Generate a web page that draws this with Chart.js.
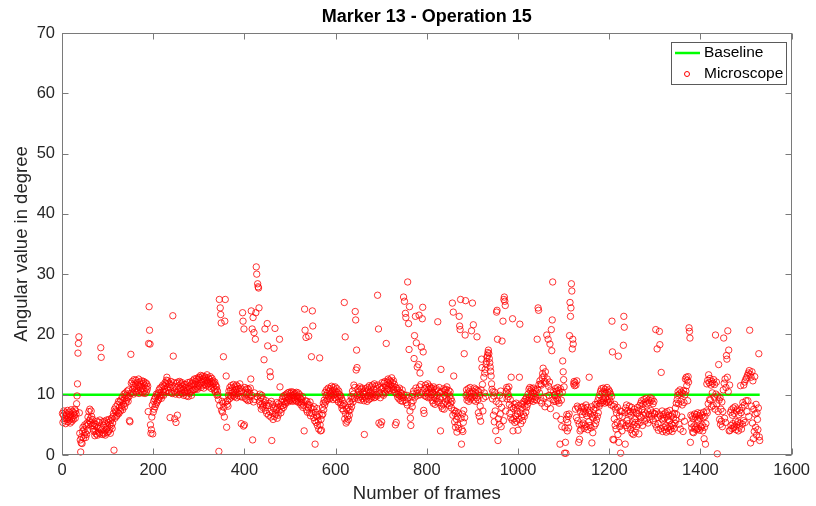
<!DOCTYPE html>
<html>
<head>
<meta charset="utf-8">
<style>
  html, body { margin: 0; padding: 0; background: #fff; }
  #wrap { width: 816px; height: 506px; }
</style>
<script src="https://cdn.jsdelivr.net/npm/chart.js@4.4.1/dist/chart.umd.min.js"></script>
</head>
<body>
<div id="wrap"><canvas id="chart" width="816" height="506"></canvas></div>
<script>
const chartTitle = "Marker 13 - Operation 15";
const xLabel = "Number of frames";
const yLabel = "Angular value in degree";
const xTicks = [0, 200, 400, 600, 800, 1000, 1200, 1400, 1600];
const yTicks = [0, 10, 20, 30, 40, 50, 60, 70];
const baselineValue = 10;

// angular value per frame (frame 1 .. N)
const angles = [
  6.9,5.4,6.6,7.3,5.7,6.1,7.0,5.2,6.5,6.8,5.9,7.4,5.5,6.2,7.1,5.8,6.7,5.3,6.4,7.5,6.0,5.6,7.2,6.3,5.9,7.0,6.6,7.6,6.1,7.3,
  6.8,8.5,9.8,11.8,16.9,18.5,19.6,7.0,3.6,2.5,0.5,2.0,3.0,1.9,3.9,4.6,2.8,4.2,3.3,5.0,3.7,2.9,4.8,3.4,5.3,4.1,6.3,5.1,7.2,5.7,
  7.6,6.0,5.3,7.3,6.4,4.9,5.9,4.3,5.2,3.9,4.8,3.2,5.1,4.0,3.5,4.7,5.6,3.3,4.5,3.8,5.4,3.6,5.8,4.4,17.8,16.2,4.2,3.4,5.5,3.7,
  4.9,3.5,5.6,4.0,3.3,5.2,4.3,5.8,3.7,4.6,5.4,3.9,5.9,4.2,5.0,3.6,5.7,4.8,6.1,4.4,5.3,6.4,6.9,0.8,7.6,6.1,7.3,8.0,6.4,7.2,
  6.6,8.4,7.0,8.9,6.9,7.9,8.8,7.3,9.1,7.8,8.2,9.6,7.5,9.0,8.4,10.1,8.0,9.4,10.3,8.6,9.9,9.1,10.6,9.5,8.9,10.8,9.7,5.7,5.5,10.2,
  16.7,11.9,10.3,12.2,10.9,11.6,10.1,12.5,11.3,10.6,11.8,12.4,10.4,11.1,12.0,10.7,11.5,12.6,10.2,11.4,12.1,10.8,11.7,10.5,12.3,11.0,10.3,11.9,12.2,10.6,
  11.6,10.2,12.0,11.1,10.5,11.8,10.9,11.4,7.2,18.5,24.6,20.7,18.4,5.0,3.6,4.2,6.3,8.3,3.5,7.1,8.9,7.6,9.3,8.0,9.6,8.4,10.1,8.7,9.9,9.0,
  10.3,9.2,10.8,9.6,11.1,9.9,10.4,9.4,11.3,10.0,11.6,10.6,9.9,11.4,10.9,12.0,10.5,11.8,12.4,12.9,11.2,12.3,10.7,11.9,10.4,11.7,6.2,11.1,12.2,10.3,
  11.6,10.2,23.1,16.4,12.0,10.6,6.0,11.3,10.1,5.4,11.9,10.4,6.6,12.1,10.8,11.5,10.0,12.2,11.0,10.3,11.8,10.7,12.0,10.2,11.4,10.9,9.9,11.7,10.5,11.2,
  10.4,11.7,9.8,11.1,10.6,12.0,9.7,11.4,10.9,10.2,12.1,10.5,11.6,9.9,11.9,10.7,12.3,10.8,11.5,12.6,10.9,11.8,12.2,11.0,12.7,11.3,10.9,12.5,11.6,12.9,
  11.4,12.8,11.9,13.2,11.2,12.5,12.0,13.1,11.6,12.7,11.1,13.0,12.3,11.7,12.9,11.5,12.4,13.3,11.8,12.1,12.8,11.3,12.6,11.9,13.0,11.6,12.2,11.0,12.7,11.8,
  12.3,11.2,11.9,10.8,12.1,10.5,11.6,10.9,11.3,9.9,10.6,10.0,9.2,0.6,25.8,8.2,24.4,23.3,21.9,7.4,8.9,7.1,8.6,16.3,7.9,6.3,22.2,25.8,8.8,13.1,
  4.6,8.4,9.0,8.1,9.9,10.6,9.3,11.2,9.8,10.7,11.5,9.6,10.3,11.1,9.9,11.7,10.4,9.7,11.3,10.1,10.8,11.6,9.5,10.9,11.4,10.2,9.8,11.0,10.5,11.8,
  9.7,11.1,5.2,10.6,9.6,23.6,22.2,4.8,20.9,5.0,11.2,9.4,10.8,10.1,9.2,11.0,10.4,9.0,10.9,9.7,10.3,9.1,11.1,12.6,23.9,9.9,20.9,2.5,22.8,8.8,
  20.3,10.3,9.2,19.2,23.6,31.2,30.0,9.7,28.4,27.9,27.7,24.4,8.9,10.1,8.3,9.5,7.6,9.9,8.5,7.9,9.3,8.1,15.8,8.7,20.9,7.4,9.0,8.2,6.9,21.8,
  18.1,8.2,6.6,8.6,7.2,13.8,13.0,6.3,8.9,2.4,7.0,8.4,5.9,7.7,17.7,6.4,21.0,8.0,6.8,7.5,8.7,6.1,7.9,6.6,8.5,7.3,19.2,11.3,8.1,7.0,
  8.8,7.6,9.3,8.2,9.7,7.9,8.9,9.9,8.4,9.5,8.7,10.1,9.0,9.6,10.3,8.8,9.4,10.4,9.1,9.8,10.2,9.0,10.5,9.3,9.9,8.9,10.4,9.5,10.0,9.2,
  10.2,9.0,9.7,10.4,8.9,9.8,9.3,10.3,8.7,9.6,10.0,8.8,9.4,8.3,9.2,8.6,9.7,7.9,8.8,8.2,4.0,24.2,20.7,9.0,19.5,7.5,8.9,7.1,8.4,7.8,
  19.7,8.3,7.0,8.8,6.5,7.8,16.3,6.9,23.9,21.4,7.6,6.2,8.0,5.7,1.8,7.1,5.4,6.5,7.7,4.9,6.3,5.6,4.3,6.7,16.1,5.0,4.0,5.9,4.1,6.6,
  7.9,6.8,8.6,7.5,9.1,8.3,10.4,8.8,9.9,10.8,9.1,10.3,9.4,11.1,9.8,10.6,9.3,11.0,10.2,9.6,11.4,9.9,10.7,9.2,11.2,10.0,10.8,9.5,11.3,10.1,
  10.5,9.2,11.0,9.7,10.3,8.8,10.6,9.4,10.0,8.7,9.8,8.3,9.4,7.7,9.0,8.2,7.4,8.5,25.3,6.0,19.6,6.8,5.3,7.6,5.6,6.4,7.9,5.9,7.3,6.6,
  8.9,7.5,8.5,9.7,8.0,9.3,10.6,8.8,10.1,11.6,9.4,11.2,23.8,22.4,14.1,17.4,14.5,9.9,11.0,9.2,10.6,9.6,11.3,10.0,9.1,10.9,9.7,11.1,9.4,10.4,
  10.1,9.0,3.4,10.6,9.6,11.0,9.3,10.4,8.9,11.2,9.8,10.8,9.2,11.5,9.9,10.5,9.4,11.3,10.2,9.7,11.6,10.0,10.9,9.5,11.8,10.3,9.6,11.4,10.0,11.0,
  9.8,26.5,11.6,20.9,5.3,10.2,11.3,9.5,5.0,10.9,5.5,12.0,10.1,11.2,9.9,11.9,10.6,12.2,10.3,11.5,18.5,10.8,12.1,11.0,12.6,10.9,11.8,12.4,10.7,11.6,
  12.2,11.1,12.8,11.4,12.0,10.8,12.3,10.9,11.7,10.4,5.0,11.2,5.4,10.1,11.0,9.6,10.7,10.0,9.3,11.1,9.8,10.4,9.0,10.2,9.6,10.8,8.9,9.5,26.2,10.0,
  25.5,9.1,23.5,22.8,8.7,9.9,8.3,28.7,9.5,21.8,17.5,24.6,7.3,6.1,4.9,8.6,9.7,8.0,10.1,9.0,10.6,16.0,19.8,9.6,23.0,11.1,18.6,10.2,14.6,10.7,
  9.9,15.0,23.2,11.3,13.6,10.0,11.7,17.9,10.3,22.6,24.5,17.1,7.4,6.9,11.0,9.8,11.6,10.4,9.7,11.2,10.1,11.8,9.5,10.9,10.3,11.4,9.6,11.1,10.0,10.8,
  11.1,9.0,10.4,8.6,11.3,9.6,10.0,8.4,10.8,9.3,11.0,8.9,9.9,22.1,10.6,8.7,11.2,9.4,10.3,4.0,14.2,8.1,10.5,7.7,9.6,8.4,11.0,7.6,9.9,10.7,
  8.8,10.9,9.4,11.3,8.5,10.2,9.1,10.7,8.2,9.8,10.5,8.6,9.3,7.8,8.9,25.2,6.6,23.7,13.1,7.4,5.5,6.9,4.6,7.2,5.9,3.8,6.4,5.0,7.0,4.4,
  23.0,21.4,20.8,25.8,6.1,1.8,4.2,6.8,3.9,5.4,7.4,16.8,6.2,19.9,25.6,9.9,10.8,9.1,10.2,9.5,11.0,8.9,10.5,9.7,11.2,9.3,10.1,20.6,9.6,25.2,
  10.6,21.6,9.1,11.1,9.8,10.3,8.9,10.9,9.5,19.6,10.7,9.2,7.0,10.5,6.4,9.9,8.1,5.6,10.8,15.9,14.5,11.7,7.3,9.4,12.9,10.3,13.6,14.2,9.7,15.0,
  15.5,16.2,16.5,17.0,17.4,16.8,16.0,15.3,14.6,13.9,13.1,11.8,10.9,9.3,10.5,6.6,9.8,5.5,10.4,7.3,4.0,8.9,23.7,24.0,19.2,2.4,6.0,8.5,5.1,9.9,
  6.8,10.6,4.7,7.9,18.9,9.4,22.2,5.7,25.8,26.2,25.5,24.8,7.3,10.5,11.2,9.3,10.9,10.1,9.7,11.3,8.4,6.9,9.2,6.2,12.9,8.0,5.8,22.6,4.0,7.7,
  6.0,8.4,5.4,7.9,6.5,8.6,5.6,7.3,6.8,4.1,8.2,5.9,12.9,21.7,7.0,5.2,8.5,6.3,7.8,5.7,8.4,6.7,8.9,6.4,8.1,9.2,7.1,9.5,7.9,9.0,
  8.4,10.1,9.1,10.9,9.5,11.2,9.0,10.6,9.8,11.0,9.3,10.4,8.9,11.1,9.7,10.2,9.2,10.8,9.6,10.5,9.1,19.2,10.9,24.4,24.0,11.7,10.3,12.3,9.0,11.8,
  11.6,8.6,12.8,13.5,14.4,9.4,13.1,12.2,8.0,13.8,11.9,9.7,19.9,12.6,8.5,19.2,11.4,9.9,12.1,18.4,7.7,10.8,20.8,17.3,22.4,28.7,9.2,10.5,8.9,10.0,
  9.9,11.0,8.9,6.5,10.6,9.3,11.2,9.0,10.7,8.6,10.2,1.8,11.0,5.9,9.1,4.7,10.4,15.6,13.8,12.5,11.3,0.3,4.5,2.1,0.3,5.9,6.7,4.0,5.4,6.4,
  4.5,6.8,19.8,25.3,23.0,24.4,28.4,27.2,17.6,19.2,18.4,11.8,12.2,11.5,12.0,7.6,11.6,6.2,12.3,8.1,5.7,7.8,2.1,5.1,2.6,4.0,7.2,4.3,7.9,5.0,
  6.7,8.0,5.3,7.2,4.4,7.7,5.0,6.9,8.3,4.7,6.5,7.9,4.2,7.1,5.5,12.9,7.4,4.9,6.8,4.5,8.0,2.0,6.3,3.7,6.1,7.5,4.8,6.6,8.4,5.2,
  7.8,5.8,8.4,6.4,9.0,7.0,9.5,8.1,10.0,8.5,10.6,9.0,11.0,8.7,10.3,9.3,11.1,9.0,10.5,8.6,10.9,9.4,10.2,8.8,11.2,9.1,10.4,8.7,10.8,9.3,
  10.5,8.9,10.1,8.3,9.7,22.2,17.1,2.6,8.1,2.5,6.0,8.4,4.9,7.6,4.3,7.0,5.4,7.9,3.4,16.4,2.1,6.5,4.7,7.3,0.3,5.2,7.2,4.0,6.4,5.3,
  18.2,23.0,21.2,7.0,1.8,7.8,4.9,8.3,5.7,4.5,7.4,5.2,6.9,8.1,4.8,7.2,4.2,6.6,7.9,3.6,5.5,7.1,3.4,5.0,7.6,6.0,3.8,5.4,7.0,4.7,
  6.8,7.9,5.1,7.4,3.5,6.5,8.2,5.4,8.6,6.2,9.0,7.6,4.9,8.4,6.6,9.2,7.1,5.6,8.8,6.8,9.4,6.0,8.5,7.3,5.3,9.1,6.7,8.7,5.9,9.5,
  7.4,9.0,6.4,9.3,7.0,8.5,5.7,8.9,6.9,6.8,5.1,20.8,7.2,4.6,17.6,6.2,5.2,4.1,6.8,20.5,18.3,6.5,4.4,13.7,6.0,7.3,3.9,5.8,6.7,4.6,
  6.1,4.2,7.0,4.8,3.8,6.3,7.2,4.5,5.9,6.6,4.0,5.7,7.4,4.7,4.3,6.4,5.1,3.9,6.8,4.9,6.2,4.4,6.9,5.3,7.8,5.8,8.6,6.7,9.2,9.9,
  10.5,8.5,5.1,10.1,10.8,4.3,8.9,10.4,6.3,8.3,10.2,3.9,10.7,8.7,5.6,10.0,12.6,10.6,12.9,11.5,12.4,9.0,13.0,12.1,21.1,20.5,19.4,2.1,6.6,5.2,
  4.5,6.4,3.8,6.0,3.7,4.8,6.8,4.3,6.3,4.6,6.7,4.2,5.9,7.0,4.4,5.7,6.5,4.1,6.1,6.9,4.7,4.5,6.6,5.0,4.0,6.2,7.1,2.7,4.6,6.4,
  1.8,5.2,7.3,11.8,7.0,12.4,8.5,13.3,12.0,9.2,12.7,9.1,11.6,8.0,12.2,10.3,11.9,8.2,12.5,9.6,11.7,7.6,19.9,10.1,12.1,8.5,0.2,9.8,7.2,15.0,
  9.1,5.9,9.5,5.1,7.6,5.6,8.8,4.7,7.2,10.8,19.4,11.9,6.1,12.6,5.4,11.2,16.5,15.9,12.9,20.6,10.5,17.4,4.0,11.6,4.1,7.1,4.9,7.5,4.4,6.6,
  5.2,7.8,4.5,6.9,4.8,8.0,5.6,4.2,7.3,5.0,7.6,5.5,4.0,6.7,4.6,7.4,5.3,11.5,7.0,4.3,7.9,5.1,8.7,5.7,11.6,8.3,12.1,5.4,12.5,9.0,
  12.8,7.2,13.2,9.0,13.6,6.4,14.0,20.7,13.4,2.0,12.9,8.1,13.8,5.3,12.3,2.7,7.6,3.9,13.0,6.8,4.6,8.4,3.3,7.0,5.9,4.2,7.8,16.8,3.0,2.4
];

const FONT = '"Liberation Sans", Arial, Helvetica, sans-serif';
const TEXT = "#262626";
const AXIS = "#7a7a7a";

// box, inward ticks, title, axis labels and the legend, matlab style
const matlabAxes = {
  id: "matlabAxes",
  afterDatasetsDraw(chart) {
    const { ctx, chartArea: a, scales } = chart;
    const L = Math.round(a.left) + 0.5, R = Math.round(a.right) - 0.5;
    const T = Math.round(a.top) + 0.5, B = Math.round(a.bottom) - 0.5;
    ctx.save();
    ctx.strokeStyle = AXIS;
    ctx.lineWidth = 1;
    ctx.strokeRect(L, T, R - L, B - T);
    ctx.beginPath();
    xTicks.forEach(v => {
      const px = Math.round(scales.x.getPixelForValue(v)) + 0.5;
      ctx.moveTo(px, B); ctx.lineTo(px, B - 6);
      ctx.moveTo(px, T); ctx.lineTo(px, T + 6);
    });
    yTicks.forEach(v => {
      const py = Math.round(scales.y.getPixelForValue(v)) + 0.5;
      ctx.moveTo(L, py); ctx.lineTo(L + 6, py);
      ctx.moveTo(R, py); ctx.lineTo(R - 6, py);
    });
    ctx.stroke();
    ctx.restore();
  },
  afterDraw(chart) {
    const { ctx, chartArea: a } = chart;
    const cx = (a.left + a.right) / 2;
    ctx.save();
    ctx.fillStyle = "#000";
    ctx.textAlign = "center";
    ctx.textBaseline = "middle";
    ctx.font = `bold 18px ${FONT}`;
    ctx.fillText(chartTitle, cx, 17);

    ctx.fillStyle = TEXT;
    ctx.font = `18.5px ${FONT}`;
    ctx.fillText(xLabel, cx, 494);
    ctx.save();
    ctx.translate(22, (a.top + a.bottom) / 2);
    ctx.rotate(-Math.PI / 2);
    ctx.fillText(yLabel, 0, 0);
    ctx.restore();

    // legend
    const lx = 671.5, ly = 42.5, lw = 115, lh = 42;
    ctx.fillStyle = "#fff";
    ctx.fillRect(lx, ly, lw, lh);
    ctx.strokeStyle = "#5a5a5a";
    ctx.lineWidth = 1;
    ctx.strokeRect(lx, ly, lw, lh);
    ctx.strokeStyle = "#00ff00";
    ctx.lineWidth = 2.5;
    ctx.beginPath();
    ctx.moveTo(675, 53); ctx.lineTo(700, 53);
    ctx.stroke();
    ctx.strokeStyle = "#ff0000";
    ctx.lineWidth = 1;
    ctx.beginPath();
    ctx.arc(687, 74, 2.5, 0, Math.PI * 2);
    ctx.stroke();
    ctx.fillStyle = "#000";
    ctx.textAlign = "left";
    ctx.font = `15.5px ${FONT}`;
    ctx.fillText("Baseline", 704, 53);
    ctx.fillText("Microscope", 704, 74);
    ctx.restore();
  }
};

const canvas = document.getElementById("chart");
new Chart(canvas, {
  type: "scatter",
  data: {
    datasets: [
      {
        label: "Baseline",
        type: "line",
        data: [{ x: 1, y: baselineValue }, { x: angles.length, y: baselineValue }],
        borderColor: "#00ff00",
        borderWidth: 2.5,
        pointRadius: 0,
        fill: false,
        order: 1
      },
      {
        label: "Microscope",
        data: angles.map((v, i) => ({ x: i + 1, y: v })),
        pointStyle: "circle",
        pointRadius: 3.2,
        borderColor: "#ff0000",
        backgroundColor: "rgba(0,0,0,0)",
        borderWidth: 0.8,
        clip: false,
        order: 0
      }
    ]
  },
  options: {
    responsive: false,
    animation: false,
    devicePixelRatio: 1,
    layout: { padding: { top: 33, right: 21, left: 0, bottom: 0 } },
    plugins: {
      legend: { display: false },
      title: { display: false },
      tooltip: { enabled: false }
    },
    scales: {
      x: {
        type: "linear",
        min: xTicks[0],
        max: xTicks[xTicks.length - 1],
        afterBuildTicks: s => { s.ticks = xTicks.map(v => ({ value: v })); },
        afterFit: s => { s.height = 51; },
        grid: { display: false, drawTicks: false },
        border: { display: false },
        ticks: { padding: 6, color: TEXT, font: { family: FONT, size: 16.5 }, maxRotation: 0, autoSkip: false, callback: v => String(v) }
      },
      y: {
        type: "linear",
        min: yTicks[0],
        max: yTicks[yTicks.length - 1],
        afterBuildTicks: s => { s.ticks = yTicks.map(v => ({ value: v })); },
        afterFit: s => { s.width = 62; },
        grid: { display: false, drawTicks: false },
        border: { display: false },
        ticks: { padding: 7, color: TEXT, font: { family: FONT, size: 16.5 }, autoSkip: false, callback: v => String(v) }
      }
    }
  },
  plugins: [matlabAxes]
});
</script>
</body>
</html>
